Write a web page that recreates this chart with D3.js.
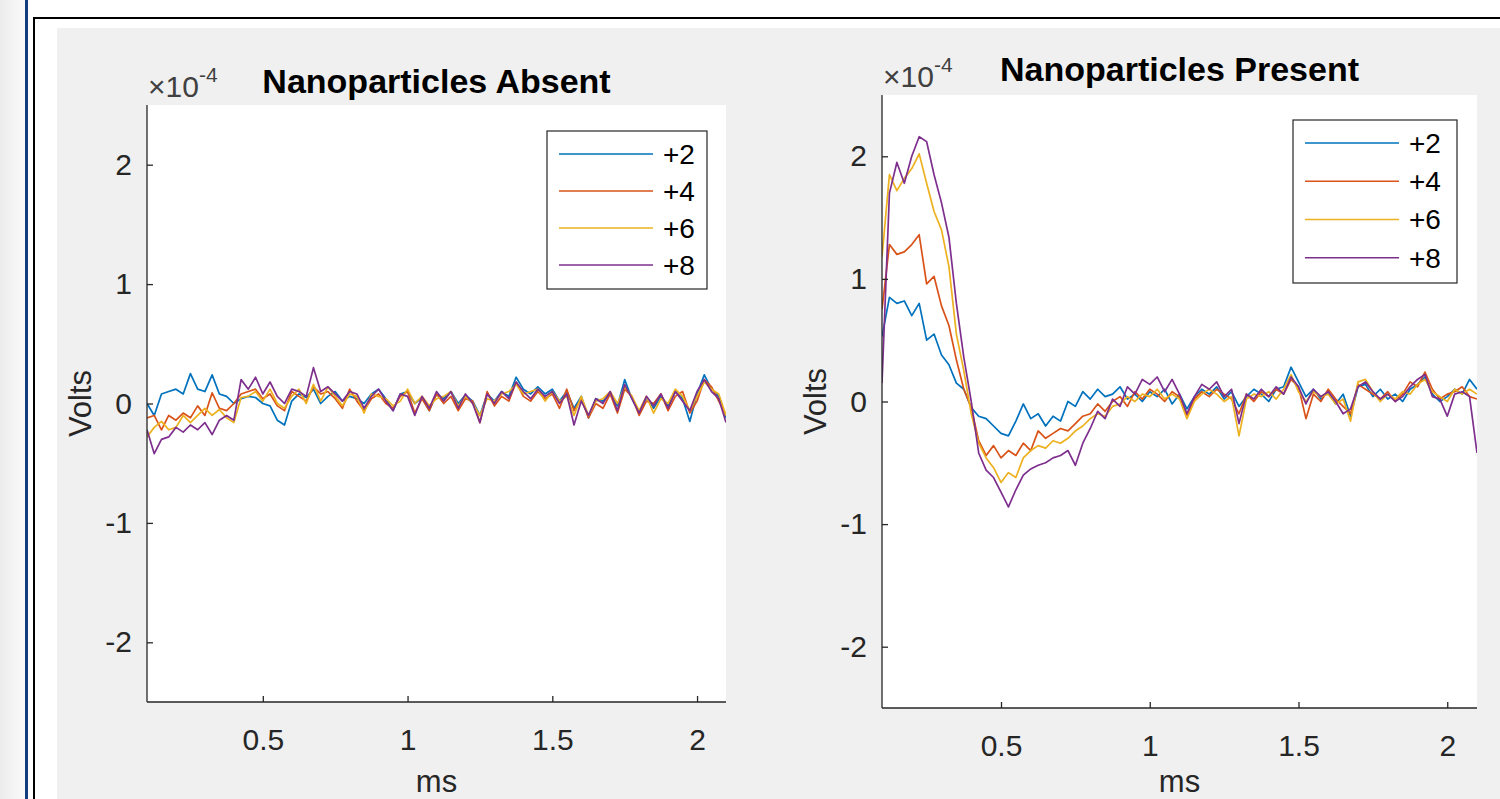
<!DOCTYPE html>
<html>
<head>
<meta charset="utf-8">
<script src="https://cdn.jsdelivr.net/npm/d3@7"></script>
<style>
  html, body { margin: 0; padding: 0; background: #fff; }
  svg { display: block; font-family: "Liberation Sans", Arial, Helvetica, sans-serif; }
</style>
</head>
<body>
<svg id="chart" width="1500" height="799"></svg>
<script>
const seriesNames = ["+2", "+4", "+6", "+8"];
const seriesColors = ["#0072BD", "#D95319", "#EDB120", "#7E2F8E"];
const timeRange = [0.1, 2.1];   // ms, first and last sample
const xTicks = [0.5, 1, 1.5, 2];
const yTicks = [-2, -1, 0, 1, 2];
const yRange = [-2.5, 2.5];      // x 1e-4 V

// values in units of 1e-4 V, one sample every 0.025 ms
const absent2 = [0.0, -0.1, 0.08, 0.1, 0.12, 0.08, 0.25, 0.12, 0.1, 0.24, 0.08, 0.06, 0.0, 0.04,
  0.06, 0.05, 0.0, -0.02, -0.14, -0.18, 0.02, 0.08, 0.05, 0.12, 0.0, 0.06, 0.1, 0.02, 0.06, 0.04,
  0.0, 0.08, 0.12, 0.04, -0.06, 0.08, 0.1, 0.0, 0.05, -0.06, 0.08, 0.04, 0.1, 0.0, 0.07, 0.02,
  -0.1, 0.08, 0.02, 0.1, 0.06, 0.22, 0.12, 0.08, 0.14, 0.08, 0.12, 0.02, 0.1, -0.04, 0.06, -0.12,
  0.04, 0.02, 0.08, -0.02, 0.2, 0.04, -0.08, 0.05, -0.04, 0.06, -0.02, 0.1, 0.04, -0.15, 0.08,
  0.24, 0.12, 0.06, -0.12];
const absent4 = [-0.12, -0.1, -0.22, -0.1, -0.14, -0.08, -0.12, -0.02, -0.1, 0.09, -0.04, -0.06, 0.0, 0.08,
  0.1, 0.12, 0.04, 0.08, -0.02, -0.06, 0.1, 0.06, 0.02, 0.14, 0.08, 0.1, 0.04, -0.04, 0.12, 0.02,
  -0.06, 0.04, 0.08, 0.0, -0.04, 0.06, 0.1, -0.08, 0.04, -0.06, 0.08, 0.0, 0.06, -0.06, 0.04, 0.02,
  -0.16, 0.1, -0.02, 0.06, 0.02, 0.18, 0.06, 0.02, 0.1, 0.04, 0.08, -0.04, 0.12, -0.06, 0.04, -0.12,
  0.0, -0.04, 0.08, -0.08, 0.12, 0.06, -0.1, 0.02, 0.0, 0.08, -0.06, 0.06, 0.1, -0.08, 0.02,
  0.2, 0.14, 0.02, -0.1];
const absent6 = [-0.28, -0.2, -0.15, -0.22, -0.2, -0.1, -0.16, -0.1, -0.04, -0.1, -0.05, -0.12, -0.16, 0.05,
  0.06, 0.1, 0.02, 0.12, 0.0, -0.04, 0.06, 0.12, 0.0, 0.16, 0.02, 0.14, 0.06, -0.02, 0.08, 0.06,
  -0.08, 0.08, 0.06, 0.04, -0.02, 0.02, 0.12, 0.0, 0.06, -0.02, 0.04, 0.06, 0.1, -0.02, 0.06, 0.0,
  -0.1, 0.04, 0.02, 0.08, 0.1, 0.16, 0.08, 0.1, 0.12, 0.02, 0.1, 0.02, 0.06, -0.1, 0.06, -0.1,
  0.02, 0.04, 0.1, 0.0, 0.14, 0.06, -0.06, 0.06, -0.08, 0.04, 0.0, 0.12, 0.06, -0.06, 0.06,
  0.18, 0.12, 0.08, -0.1];
const absent8 = [-0.22, -0.42, -0.3, -0.28, -0.2, -0.24, -0.18, -0.22, -0.16, -0.26, -0.14, -0.1, -0.14, 0.2,
  0.12, 0.22, 0.08, 0.18, 0.06, 0.0, 0.12, 0.1, 0.06, 0.3, 0.1, 0.14, 0.08, 0.02, 0.1, 0.08,
  -0.04, 0.06, 0.12, 0.02, -0.06, 0.08, 0.06, -0.1, 0.06, -0.04, 0.1, 0.02, 0.1, -0.04, 0.08, 0.0,
  -0.16, 0.08, 0.0, 0.1, 0.04, 0.18, 0.1, 0.04, 0.12, 0.06, 0.1, 0.0, 0.08, -0.18, 0.02, -0.1,
  0.04, 0.0, 0.1, -0.06, 0.16, 0.04, -0.08, 0.06, -0.02, 0.08, -0.04, 0.1, 0.02, -0.06, 0.1,
  0.2, 0.1, 0.04, -0.16];

const present2 = [0.53, 0.85, 0.8, 0.82, 0.7, 0.8, 0.5, 0.55, 0.38, 0.3, 0.15, 0.1, -0.05, -0.12,
  -0.14, -0.2, -0.26, -0.28, -0.16, -0.02, -0.14, -0.1, -0.2, -0.12, -0.16, 0.0, -0.04, 0.08, 0.02, 0.1,
  0.04, 0.06, 0.12, 0.02, 0.06, 0.0, 0.08, 0.04, 0.1, -0.02, 0.06, -0.06, 0.04, 0.1, 0.06, 0.12,
  0.02, 0.08, -0.04, 0.04, 0.1, 0.06, 0.0, 0.1, 0.12, 0.28, 0.16, 0.04, 0.1, 0.02, 0.08, -0.02,
  0.06, -0.12, 0.12, 0.14, 0.04, 0.1, 0.02, 0.06, 0.0, 0.1, 0.14, 0.2, 0.06, 0.0, 0.04, 0.1,
  0.06, 0.18, 0.1];
const present4 = [0.75, 1.28, 1.2, 1.22, 1.28, 1.36, 0.96, 1.02, 0.78, 0.62, 0.34, 0.1, -0.05, -0.32,
  -0.44, -0.36, -0.46, -0.4, -0.44, -0.34, -0.4, -0.24, -0.3, -0.26, -0.22, -0.24, -0.18, -0.12, -0.1, -0.02,
  -0.08, 0.0, 0.04, -0.04, 0.08, 0.02, 0.1, 0.06, 0.0, 0.08, 0.04, -0.12, 0.02, 0.08, 0.04, 0.1,
  0.06, 0.02, -0.1, 0.06, 0.0, 0.08, 0.04, 0.1, 0.06, 0.18, 0.12, -0.14, 0.06, 0.0, 0.1, 0.02,
  -0.04, -0.1, 0.14, 0.1, 0.06, 0.02, 0.08, 0.0, 0.06, 0.16, 0.12, 0.24, 0.1, 0.02, 0.06, 0.08,
  0.12, 0.04, 0.02];
const present6 = [1.18, 1.85, 1.72, 1.82, 1.9, 2.02, 1.78, 1.55, 1.4, 1.1, 0.55, 0.25, -0.1, -0.34,
  -0.46, -0.54, -0.66, -0.58, -0.62, -0.46, -0.4, -0.36, -0.38, -0.32, -0.34, -0.3, -0.24, -0.2, -0.14, -0.1,
  -0.12, -0.04, -0.02, 0.04, 0.0, 0.06, 0.04, 0.1, 0.02, 0.06, 0.02, -0.14, 0.0, 0.06, 0.1, 0.06,
  0.0, 0.04, -0.28, 0.02, 0.06, 0.04, 0.08, 0.02, 0.1, 0.22, 0.08, 0.0, 0.08, 0.04, 0.06, -0.02,
  0.02, -0.16, 0.16, 0.18, 0.08, 0.0, 0.06, 0.02, 0.08, 0.06, 0.14, 0.18, 0.08, 0.04, 0.0, 0.1,
  0.06, 0.1, 0.06];
const present8 = [0.15, 1.7, 1.95, 1.78, 2.0, 2.16, 2.12, 1.85, 1.62, 1.34, 0.8, 0.36, 0.0, -0.42,
  -0.56, -0.62, -0.74, -0.86, -0.72, -0.6, -0.55, -0.52, -0.5, -0.46, -0.44, -0.4, -0.52, -0.34, -0.22, -0.08,
  -0.14, 0.02, -0.04, 0.12, 0.06, 0.18, 0.14, 0.2, 0.08, 0.18, 0.06, -0.1, 0.04, 0.14, 0.1, 0.16,
  0.04, 0.1, -0.18, 0.06, 0.02, 0.1, 0.04, 0.12, 0.06, 0.2, 0.12, -0.02, 0.1, 0.04, 0.08, 0.0,
  -0.1, -0.06, 0.12, 0.16, 0.08, 0.02, 0.06, 0.0, 0.04, 0.12, 0.18, 0.22, 0.04, 0.02, -0.12, 0.06,
  0.08, 0.04, -0.42];

const panels = [
  { title: "Nanoparticles Absent", series: [absent2, absent4, absent6, absent8],
    box: { left: 147, right: 726, top: 105, bottom: 702 }, titleY: 93,
    legend: { x: 547, y: 131, w: 160, h: 158 } },
  { title: "Nanoparticles Present", series: [present2, present4, present6, present8],
    box: { left: 882, right: 1477, top: 95, bottom: 708 }, titleY: 81,
    legend: { x: 1293, y: 120, w: 164, h: 163 } }
];

const svg = d3.select("#chart");
const ink = "#262626";

// page chrome around the figure
const defs = svg.append("defs");
const grad = defs.append("linearGradient").attr("id", "strip");
grad.append("stop").attr("offset", "0%").attr("stop-color", "#ececec");
grad.append("stop").attr("offset", "100%").attr("stop-color", "#fafafa");

svg.append("rect").attr("x", 0).attr("y", 0).attr("width", 25).attr("height", 799).attr("fill", "url(#strip)");
svg.append("rect").attr("x", 25).attr("y", 0).attr("width", 3).attr("height", 799).attr("fill", "#123d7f");
svg.append("path")
  .attr("d", "M34,799V18H1500")
  .attr("fill", "none")
  .attr("stroke", "#000")
  .attr("stroke-width", 2);
svg.append("rect").attr("x", 57).attr("y", 28).attr("width", 1443).attr("height", 771).attr("fill", "#f0f0f0");

function drawPanel(p, idx) {
  const { left, right, top, bottom } = p.box;

  const x = d3.scaleLinear().domain(timeRange).range([left, right]);
  const y = d3.scaleLinear().domain(yRange).range([bottom, top]);

  const g = svg.append("g");

  g.append("rect")
    .attr("x", left).attr("y", top)
    .attr("width", right - left).attr("height", bottom - top)
    .attr("fill", "#fff");

  defs.append("clipPath").attr("id", "clip" + idx)
    .append("rect")
    .attr("x", left).attr("y", top)
    .attr("width", right - left).attr("height", bottom - top);

  const lines = g.append("g").attr("clip-path", `url(#clip${idx})`);
  p.series.forEach((vals, k) => {
    const t = d3.scaleLinear().domain([0, vals.length - 1]).range(timeRange);
    const line = d3.line()
      .x((d, i) => x(t(i)))
      .y(d => y(d));
    lines.append("path")
      .datum(vals)
      .attr("d", line)
      .attr("fill", "none")
      .attr("stroke", seriesColors[k])
      .attr("stroke-width", 1.7)
      .attr("stroke-linejoin", "round");
  });

  // plain hyphen for negatives, like the original
  const fmt = d => String(d);

  const xAxis = g.append("g")
    .attr("transform", `translate(0,${bottom})`)
    .call(d3.axisBottom(x).tickValues(xTicks).tickFormat(fmt).tickSizeInner(-6).tickSizeOuter(0).tickPadding(27));
  const yAxis = g.append("g")
    .attr("transform", `translate(${left},0)`)
    .call(d3.axisLeft(y).tickValues(yTicks).tickFormat(fmt).tickSizeInner(-6).tickSizeOuter(0).tickPadding(15));

  [xAxis, yAxis].forEach(a => {
    a.select(".domain").attr("stroke", ink).attr("stroke-width", 1.3);
    a.selectAll(".tick line").attr("stroke", ink).attr("stroke-width", 1.3);
    a.selectAll(".tick text")
      .attr("fill", ink)
      .attr("font-size", 30)
      .attr("font-family", "Liberation Sans, Arial, sans-serif");
  });
  // MATLAB draws the axis line over the full extent
  xAxis.select(".domain").attr("d", `M${left},0H${right}`);
  yAxis.select(".domain").attr("d", `M0,${top}V${bottom}`);

  // title and exponent
  g.append("text")
    .attr("x", (left + right) / 2)
    .attr("y", p.titleY)
    .attr("text-anchor", "middle")
    .attr("font-weight", "bold")
    .attr("font-size", 34)
    .attr("fill", "#000")
    .text(p.title);

  const expo = g.append("text")
    .attr("x", left + 1)
    .attr("y", top - 8)
    .attr("fill", "#404040")
    .attr("font-size", 30);
  expo.append("tspan").text("\u00d710");
  expo.append("tspan").attr("dy", -15).attr("font-size", 21).text("-4");

  // axis labels
  g.append("text")
    .attr("transform", `translate(${left - 56},${(top + bottom) / 2}) rotate(-90)`)
    .attr("text-anchor", "middle")
    .attr("fill", ink)
    .attr("font-size", 31)
    .text("Volts");

  // the window crops the figure just under the second "ms"; keep it inside
  g.append("text")
    .attr("x", (left + right) / 2)
    .attr("y", Math.min(bottom + 91, 792))
    .attr("text-anchor", "middle")
    .attr("fill", ink)
    .attr("font-size", 31)
    .text("ms");

  // legend
  const L = p.legend;
  const lg = g.append("g").attr("transform", `translate(${L.x},${L.y})`);
  lg.append("rect")
    .attr("width", L.w).attr("height", L.h)
    .attr("fill", "#fff")
    .attr("stroke", ink)
    .attr("stroke-width", 1.2);
  const rowH = (L.h - 10) / 4;
  seriesNames.forEach((name, k) => {
    const cy = 23 + k * rowH;
    lg.append("line")
      .attr("x1", 12).attr("x2", 106)
      .attr("y1", cy).attr("y2", cy)
      .attr("stroke", seriesColors[k])
      .attr("stroke-width", 1.6);
    lg.append("text")
      .attr("x", 116)
      .attr("y", cy)
      .attr("dy", "0.35em")
      .attr("fill", "#000")
      .attr("font-size", 28)
      .text(name);
  });
}

panels.forEach(drawPanel);
</script>
</body>
</html>
